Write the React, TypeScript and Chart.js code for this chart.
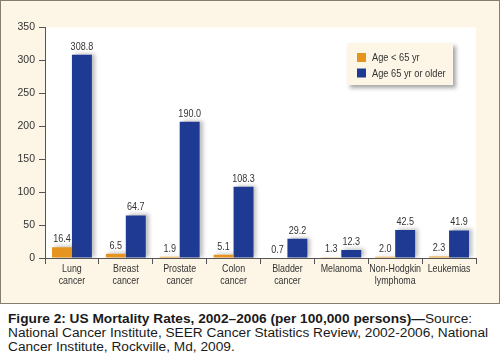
import React, { useEffect, useRef } from 'react';
import { Chart, registerables } from 'chart.js';
Chart.register(...registerables);

const categories: string[][] = [
  ['Lung', 'cancer'],
  ['Breast', 'cancer'],
  ['Prostate', 'cancer'],
  ['Colon', 'cancer'],
  ['Bladder', 'cancer'],
  ['Melanoma'],
  ['Non-Hodgkin', 'lymphoma'],
  ['Leukemias'],
];
const seriesNames = ['Age < 65 yr', 'Age 65 yr or older'];
// bar heights as drawn in the picture
const under65 = [16.4, 6.5, 1.9, 5.1, 0.7, 1.3, 2.0, 2.3];
const over65 = [308.8, 64.7, 207, 108.3, 29.2, 12.3, 42.5, 41.9];
// value labels printed above the bars
const under65Labels = ['16.4', '6.5', '1.9', '5.1', '0.7', '1.3', '2.0', '2.3'];
const over65Labels = ['308.8', '64.7', '190.0', '108.3', '29.2', '12.3', '42.5', '41.9'];
const yTicks = [0, 50, 100, 150, 200, 250, 300, 350];

const ORANGE = '#E5941F';
const BLUE = '#1F3A92';
const CREAM = '#FDF6E6';
const SANS = "'Liberation Sans', Arial, sans-serif";
const NARROW_SCALE = 0.82;

const valueLabels = [under65Labels, over65Labels];

function narrowText(c: CanvasRenderingContext2D, text: string, x: number, y: number) {
  c.save();
  c.translate(x, y);
  c.scale(NARROW_SCALE, 1);
  c.fillText(text, 0, 0);
  c.restore();
}

const decorPlugin = {
  id: 'decor',
  beforeDraw(chart: any) {
    const { ctx, chartArea: ca } = chart;
    ctx.save();
    ctx.fillStyle = '#FFFFFF';
    ctx.fillRect(ca.left, ca.top, ca.right - ca.left, ca.bottom - ca.top);
    ctx.restore();
  },
  beforeDatasetsDraw(chart: any) {
    const c = chart.ctx;
    c.save();
    c.shadowColor = 'rgba(70,70,70,0.35)';
    c.shadowBlur = 4;
    c.shadowOffsetX = 3;
    c.shadowOffsetY = -1;
  },
  afterDatasetsDraw(chart: any) {
    const c = chart.ctx;
    c.restore();
    c.save();
    c.font = `11px ${SANS}`;
    c.fillStyle = '#333333';
    c.textAlign = 'center';
    c.textBaseline = 'alphabetic';
    chart.data.datasets.forEach((ds: any, di: number) => {
      const meta = chart.getDatasetMeta(di);
      meta.data.forEach((bar: any, i: number) => {
        narrowText(c, valueLabels[di][i], bar.x, bar.y - 5);
      });
    });
    c.restore();
  },
  afterDraw(chart: any) {
    const { ctx: c, chartArea: ca } = chart;
    // category labels (condensed)
    const xs = chart.scales.x;
    c.save();
    c.font = `10.8px ${SANS}`;
    c.fillStyle = '#333333';
    c.textAlign = 'center';
    c.textBaseline = 'middle';
    categories.forEach((lines, i) => {
      const x = xs.getPixelForValue(i);
      lines.forEach((t, li) => narrowText(c, t, x, ca.bottom + 11.5 + li * 11.5));
    });
    c.restore();

    // legend
    const w = 106;
    const h = 42;
    const left = ca.right - 23 - w;
    const top = ca.top + 15.5;
    c.save();
    c.shadowColor = 'rgba(60,60,60,0.45)';
    c.shadowBlur = 4;
    c.shadowOffsetX = 3;
    c.shadowOffsetY = 3;
    c.fillStyle = CREAM;
    c.fillRect(left, top, w, h);
    c.restore();
    c.save();
    c.font = `11.3px ${SANS}`;
    c.textBaseline = 'middle';
    c.textAlign = 'left';
    chart.data.datasets.forEach((ds: any, i: number) => {
      const y = top + 14.5 + i * 15.5;
      c.fillStyle = ds.backgroundColor;
      c.fillRect(left + 10, y - 4.5, 9, 9);
      c.fillStyle = '#333333';
      narrowText(c, ds.label, left + 25, y + 0.5);
    });
    c.restore();
  },
};

export default function App() {
  const ref = useRef<HTMLCanvasElement>(null);
  useEffect(() => {
    if (!ref.current) return;
    const chart = new Chart(ref.current, {
      type: 'bar',
      data: {
        labels: categories,
        datasets: [
          { label: seriesNames[0], data: under65, backgroundColor: ORANGE, borderWidth: 0 },
          { label: seriesNames[1], data: over65, backgroundColor: BLUE, borderWidth: 0 },
        ],
      },
      options: {
        animation: false,
        responsive: false,
        devicePixelRatio: 1,
        layout: { padding: { top: 26.5, right: 23, left: 0, bottom: 0 } },
        datasets: { bar: { categoryPercentage: 0.74, barPercentage: 1.0 } },
        plugins: { legend: { display: false }, tooltip: { enabled: false }, title: { display: false } },
        scales: {
          x: {
            afterFit: (s: any) => { s.height = 45; },
            grid: { drawOnChartArea: false, drawTicks: true, tickLength: 6, color: '#555555', offset: true },
            border: { display: true, color: '#555555', width: 1 },
            ticks: {
              color: 'rgba(0,0,0,0)',
              font: { family: SANS, size: 10 },
              padding: 2,
              maxRotation: 0,
              autoSkip: false,
            },
          },
          y: {
            min: 0,
            max: 350,
            afterFit: (s: any) => { s.width = 44; },
            afterBuildTicks: (s: any) => { s.ticks = yTicks.map((v) => ({ value: v })); },
            grid: { drawOnChartArea: false, drawTicks: true, tickLength: 6, color: '#555555' },
            border: { display: true, color: '#555555', width: 1 },
            ticks: {
              color: '#333333',
              font: { family: SANS, size: 10.5 },
              padding: 4,
            },
          },
        },
      },
      plugins: [decorPlugin],
    });
    return () => chart.destroy();
  }, []);

  return (
    <div style={{ position: 'absolute', left: 0, top: 0, width: 500 }}>
      <div
        style={{
          width: 500,
          height: 304,
          boxSizing: 'border-box',
          border: '1px solid #857D6E',
          background: CREAM,
        }}
      >
        <canvas ref={ref} width={498} height={302} style={{ display: 'block', width: 498, height: 302 }} />
      </div>
      <div
        style={{
          marginTop: 8,
          paddingLeft: 8,
          fontFamily: SANS,
          fontSize: 13.7,
          lineHeight: '14px',
          color: '#1a1a1a',
          whiteSpace: 'nowrap',
        }}
      >
        <b>Figure 2: US Mortality Rates, 2002–2006 (per 100,000 persons)—</b>Source:
        <br />
        National Cancer Institute, SEER Cancer Statistics Review, 2002-2006, National
        <br />
        Cancer Institute, Rockville, Md, 2009.
      </div>
    </div>
  );
}
